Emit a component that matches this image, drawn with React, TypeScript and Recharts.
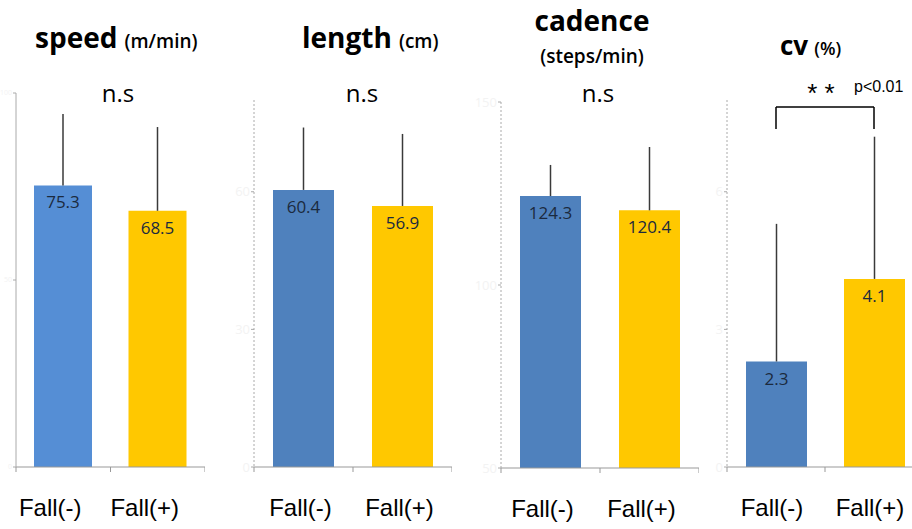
import React from 'react';
import {
  BarChart,
  Bar,
  Cell,
  XAxis,
  YAxis,
  ErrorBar,
  LabelList,
  ReferenceLine
} from 'recharts';

const groups = ['Fall(-)', 'Fall(+)'];

const speedMean = [75.3, 68.5];
const speedSd = [19.1, 22.4];
const lengthMean = [60.4, 56.9];
const lengthSd = [13.6, 15.7];
const cadenceMean = [124.3, 120.4];
const cadenceSd = [8.5, 17.3];
const cvMean = [2.3, 4.1];
const cvSd = [3.0, 3.1];

const speedTicks = [0, 50, 100];
const lengthTicks = [0, 30, 60];
const cadenceTicks = [50, 100, 150];
const cvTicks = [0, 3, 6];

const BLUE = '#4F81BD';
const BLUE_LIGHT = '#558ED5';
const YELLOW = '#FFC800';
const SANS = '"Open Sans", "Noto Sans", sans-serif';
const ARIAL = '"Liberation Sans", Arial, sans-serif';

const rows = (mean: number[], sd: number[]) =>
  groups.map((g, i) => ({ name: g, value: mean[i], err: [0, sd[i]] }));

const GroupTick = (props: any) => {
  const { x, y, payload, shift } = props;
  const off = payload.offset || 0;
  return (
    <g>
      {payload.index === 0 && (
        <line x1={x - off} x2={x - off} y1={y} y2={y + 5} stroke="#999" />
      )}
      <line x1={x + off} x2={x + off} y1={y} y2={y + 5} stroke="#999" />
      <text x={x + (shift || 0)} y={y + 49} textAnchor="middle" fontSize={24} fontFamily={ARIAL} fill="#000">
        {payload.value}
      </text>
    </g>
  );
};

interface PanelProps {
  left: number;
  yWidth: number;
  plotWidth: number;
  top: number;
  bottom: number;
  data: { name: string; value: number; err: number[] }[];
  domain: [number, number];
  ticks: number[];
  colors: string[];
  barSize: number;
  labelShift: number;
  dashed?: boolean;
  tickFont?: number;
  children?: React.ReactNode;
}

const Panel = ({
  left, yWidth, plotWidth, top, bottom, data, domain, ticks, colors, barSize,
  labelShift, dashed, tickFont = 13, children
}: PanelProps) => (
  <div style={{ position: 'absolute', left, top: 0 }}>
    <BarChart
      width={yWidth + plotWidth}
      height={529}
      data={data}
      margin={{ top, right: 0, left: 0, bottom: 0 }}
      barCategoryGap={0}
    >
      <XAxis
        dataKey="name"
        height={529 - bottom}
        tickLine={false}
        tickSize={0}
        tickMargin={0}
        axisLine={{ stroke: '#999' }}
        tick={<GroupTick shift={labelShift} />}
        interval={0}
      />
      <YAxis
        width={yWidth}
        domain={domain}
        ticks={ticks}
        allowDataOverflow
        axisLine={{ stroke: '#aaa', strokeDasharray: dashed ? '2 2' : undefined }}
        tickLine={{ stroke: '#aaa' }}
        tickSize={3}
        tickMargin={1}
        tick={{ fill: '#f3f3f3', fontSize: tickFont, fontFamily: SANS }}
      />
      <Bar dataKey="value" barSize={barSize} isAnimationActive={false}>
        {data.map((_, i) => (
          <Cell key={i} fill={colors[i]} />
        ))}
        <ErrorBar dataKey="err" direction="y" width={0} stroke="#3a3a3a" strokeWidth={1.5} />
        <LabelList
          dataKey="value"
          position="insideTop"
          offset={11}
          fill="#1b2a3e"
          fontSize={17}
          fontFamily={SANS}
        />
      </Bar>
      {children}
    </BarChart>
  </div>
);

export default function App() {
  const title = { fontFamily: SANS, fill: '#000' };
  return (
    <div
      style={{
        position: 'absolute',
        left: 0,
        top: 0,
        width: 912,
        height: 529,
        overflow: 'hidden',
        background: '#fff'
      }}
    >
      <Panel
        left={0}
        yWidth={16}
        plotWidth={189}
        top={93}
        bottom={467}
        data={rows(speedMean, speedSd)}
        domain={[0, 100]}
        ticks={speedTicks}
        colors={[BLUE_LIGHT, YELLOW]}
        barSize={58}
        labelShift={-13}
        tickFont={7}
      />
      <Panel
        left={224}
        yWidth={30}
        plotWidth={198}
        top={100}
        bottom={467}
        data={rows(lengthMean, lengthSd)}
        domain={[0, 80]}
        ticks={lengthTicks}
        colors={[BLUE, YELLOW]}
        barSize={61}
        labelShift={-3}
        dashed
      />
      <Panel
        left={471}
        yWidth={30}
        plotWidth={198}
        top={102}
        bottom={468}
        data={rows(cadenceMean, cadenceSd)}
        domain={[50, 150]}
        ticks={cadenceTicks}
        colors={[BLUE, YELLOW]}
        barSize={61}
        labelShift={-8}
        dashed
      />
      <Panel
        left={697}
        yWidth={30}
        plotWidth={196}
        top={100}
        bottom={467}
        data={rows(cvMean, cvSd)}
        domain={[0, 8]}
        ticks={cvTicks}
        colors={[BLUE, YELLOW]}
        barSize={61}
        labelShift={-4}
        dashed
      >
        <ReferenceLine
          segment={[{ x: 'Fall(-)', y: 7.85 }, { x: 'Fall(+)', y: 7.85 }]}
          stroke="#000"
          strokeWidth={1.5}
          ifOverflow="visible"
        />
        <ReferenceLine
          segment={[{ x: 'Fall(-)', y: 7.37 }, { x: 'Fall(-)', y: 7.85 }]}
          stroke="#000"
          strokeWidth={1.5}
          ifOverflow="visible"
        />
        <ReferenceLine
          segment={[{ x: 'Fall(+)', y: 7.37 }, { x: 'Fall(+)', y: 7.85 }]}
          stroke="#000"
          strokeWidth={1.5}
          ifOverflow="visible"
        />
      </Panel>

      <svg
        width={912}
        height={529}
        style={{ position: 'absolute', left: 0, top: 0, pointerEvents: 'none' }}
      >
        <text x={35} y={48} {...title} fontSize={28} fontWeight="bold">
          speed
          <tspan fontSize={19} fontWeight="600" dx={7}>(m/min)</tspan>
        </text>
        <text x={302} y={48} {...title} fontSize={28} fontWeight="bold">
          length
          <tspan fontSize={19} fontWeight="600" dx={7}>(cm)</tspan>
        </text>
        <text x={592} y={31} {...title} fontSize={28} fontWeight="bold" textAnchor="middle">
          cadence
        </text>
        <text x={592} y={63} {...title} fontSize={19} fontWeight="600" textAnchor="middle">
          (steps/min)
        </text>
        <text x={780} y={55} {...title} fontSize={26} fontWeight="bold">
          cv
          <tspan fontSize={18} fontWeight="600" dx={6}>(%)</tspan>
        </text>

        <text x={118} y={102} {...title} fontSize={24} textAnchor="middle">n.s</text>
        <text x={362} y={102} {...title} fontSize={24} textAnchor="middle">n.s</text>
        <text x={598} y={102} {...title} fontSize={24} textAnchor="middle">n.s</text>

        <text x={821} y={102} fontFamily={ARIAL} fontSize={26} textAnchor="middle" fill="#000">
          * *
        </text>
        <text x={854} y={92} fontFamily={ARIAL} fontSize={16} fill="#000">p&lt;0.01</text>
      </svg>
    </div>
  );
}
